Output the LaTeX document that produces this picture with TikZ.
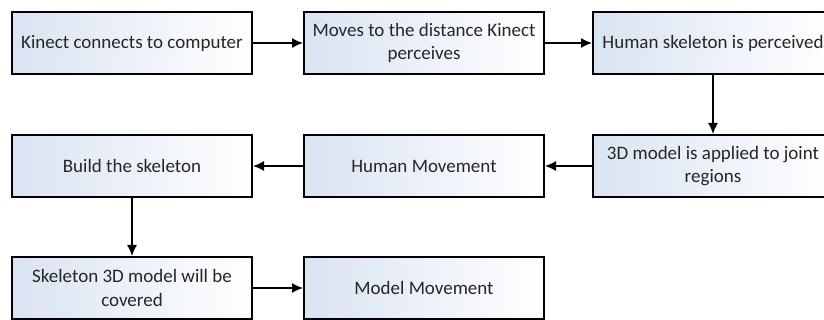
\documentclass[tikz,border=0pt]{standalone}
\usepackage{fontspec}
\setmainfont{Carlito}
\usetikzlibrary{arrows.meta}

\definecolor{boxfill}{RGB}{218,227,242}
\definecolor{boxtext}{RGB}{38,38,38}

\begin{document}
\begin{tikzpicture}[x=1pt, y=1pt, >={Latex[length=11pt,width=10pt]}, line width=1.5pt,
    stage/.style={draw, line width=2pt, left color=boxfill, right color=white,
        minimum width=240pt, minimum height=62pt, inner sep=0pt, align=center,
        text=boxtext, font=\fontsize{19}{23.5}\selectfont}]

        \useasboundingbox (0,0) rectangle (824,-320);
        \clip (0,0) rectangle (824,-320);

        \coordinate (A) at (132,-43);
        \coordinate (B) at (424,-43);
        \coordinate (C) at (713,-43);
        \coordinate (D) at (132,-166);
        \coordinate (E) at (424,-166);
        \coordinate (F) at (713,-166);
        \coordinate (G) at (132,-288);
        \coordinate (H) at (424,-288);

        \node[stage] (connect) at (A) {Kinect connects to computer};
        \node[stage] (moves) at (B) {Moves to the distance Kinect\\perceives};
        \node[stage] (perceived) at (C) {Human skeleton is perceived};
        \node[stage] (applied) at (F) {3D model is applied to joint\\regions};
        \node[stage] (humanmove) at (E) {Human Movement};
        \node[stage] (build) at (D) {Build the skeleton};
        \node[stage] (covered) at (G) {Skeleton 3D model will be\\covered};
        \node[stage] (modelmove) at (H) {Model Movement};

        \draw[->, black] (connect) -- (moves);
        \draw[->, black] (moves) -- (perceived);
        \draw[->, black] (perceived) -- (applied);
        \draw[->, black] (applied) -- (humanmove);
        \draw[->, black] (humanmove) -- (build);
        \draw[->, black] (build) -- (covered);
        \draw[->, black] (covered) -- (modelmove);

    \end{tikzpicture}
\end{document}
